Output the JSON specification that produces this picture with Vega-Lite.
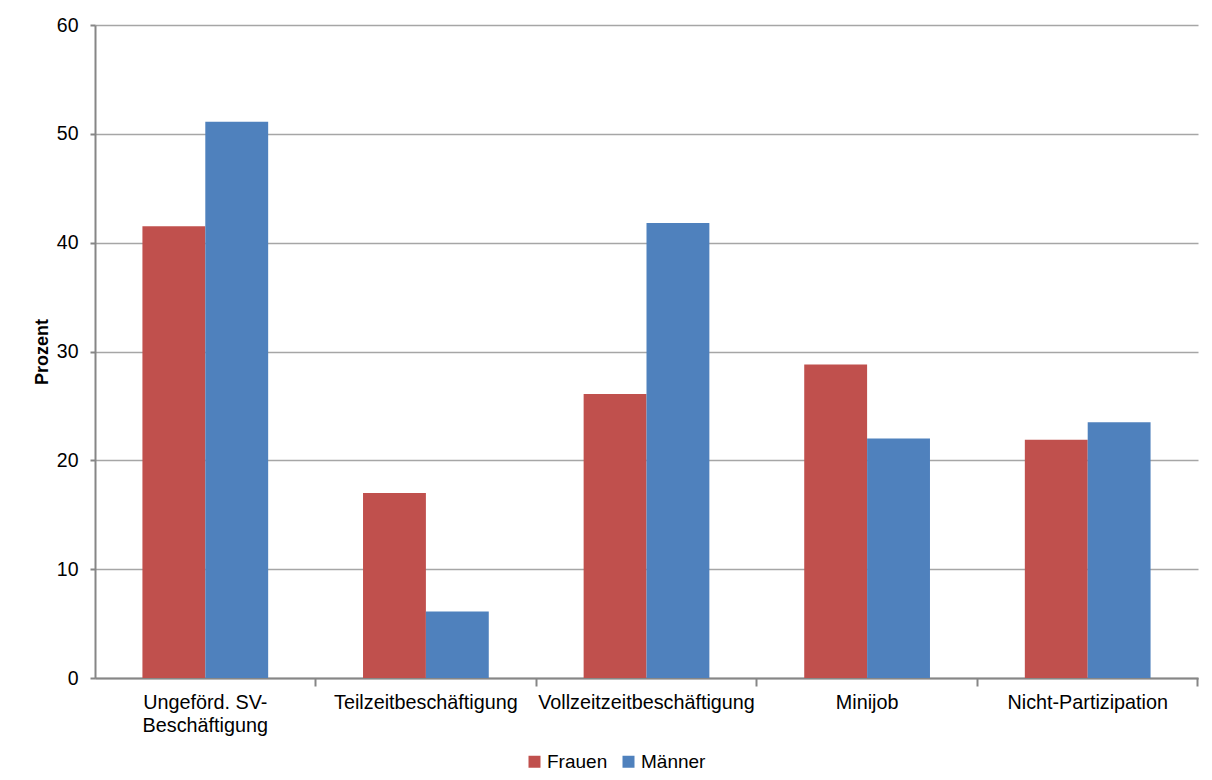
{
  "$schema": "https://vega.github.io/schema/vega-lite/v6.json",
  "width": 1103,
  "height": 653,
  "autosize": {"type": "none"},
  "padding": {"left": 95, "top": 25, "right": 14, "bottom": 102},
  "background": "white",
  "data": {
    "values": [
      {"Kategorie": "Ungeförd. SV-Beschäftigung", "Geschlecht": "Frauen", "Prozent": 41.5},
      {"Kategorie": "Ungeförd. SV-Beschäftigung", "Geschlecht": "Männer", "Prozent": 51.1},
      {"Kategorie": "Teilzeitbeschäftigung", "Geschlecht": "Frauen", "Prozent": 17.0},
      {"Kategorie": "Teilzeitbeschäftigung", "Geschlecht": "Männer", "Prozent": 6.1},
      {"Kategorie": "Vollzeitzeitbeschäftigung", "Geschlecht": "Frauen", "Prozent": 26.1},
      {"Kategorie": "Vollzeitzeitbeschäftigung", "Geschlecht": "Männer", "Prozent": 41.8},
      {"Kategorie": "Minijob", "Geschlecht": "Frauen", "Prozent": 28.8},
      {"Kategorie": "Minijob", "Geschlecht": "Männer", "Prozent": 22.0},
      {"Kategorie": "Nicht-Partizipation", "Geschlecht": "Frauen", "Prozent": 21.9},
      {"Kategorie": "Nicht-Partizipation", "Geschlecht": "Männer", "Prozent": 23.5}
    ]
  },
  "mark": {"type": "bar"},
  "encoding": {
    "x": {
      "field": "Kategorie",
      "type": "nominal",
      "sort": null,
      "scale": {"paddingInner": 0.43, "paddingOuter": 0.215},
      "axis": {
        "title": null,
        "labelAngle": 0,
        "labelFont": "Liberation Sans",
        "labelFontSize": 19.8,
        "labelColor": "#000000",
        "labelLineHeight": 23,
        "labelPadding": 6,
        "labelLimit": 400,
        "labelExpr": "datum.label == 'Ungeförd. SV-Beschäftigung' ? ['Ungeförd. SV-', 'Beschäftigung'] : datum.label",
        "bandPosition": 1.377,
        "tickSize": 8,
        "tickColor": "#868686",
        "tickWidth": 2,
        "domainColor": "#868686",
        "domainWidth": 2,
        "grid": false
      }
    },
    "xOffset": {
      "field": "Geschlecht",
      "type": "nominal",
      "sort": ["Frauen", "Männer"],
      "scale": {"paddingInner": 0, "paddingOuter": 0}
    },
    "y": {
      "field": "Prozent",
      "type": "quantitative",
      "scale": {"domain": [0, 60], "nice": false},
      "axis": {
        "title": "Prozent",
        "titleFont": "Liberation Sans",
        "titleFontSize": 18,
        "titleFontWeight": "bold",
        "titleColor": "#000000",
        "titlePadding": 5,
        "values": [0, 10, 20, 30, 40, 50, 60],
        "labelFont": "Liberation Sans",
        "labelFontSize": 19.5,
        "labelColor": "#000000",
        "labelPadding": 12,
        "tickSize": 5,
        "tickColor": "#868686",
        "tickWidth": 2,
        "domainColor": "#868686",
        "domainWidth": 2,
        "grid": true,
        "gridColor": "#A6A6A6",
        "gridWidth": 1.5
      }
    },
    "color": {
      "field": "Geschlecht",
      "type": "nominal",
      "scale": {"domain": ["Frauen", "Männer"], "range": ["#C0504D", "#4F81BD"]},
      "legend": {
        "title": null,
        "orient": "none",
        "direction": "horizontal",
        "legendX": 430,
        "legendY": 727,
        "symbolType": "square",
        "symbolSize": 144,
        "symbolStrokeWidth": 0,
        "labelFont": "Liberation Sans",
        "labelFontSize": 19,
        "labelColor": "#000000",
        "labelOffset": 3,
        "columnPadding": 11
      }
    }
  },
  "config": {"view": {"stroke": null}}
}
